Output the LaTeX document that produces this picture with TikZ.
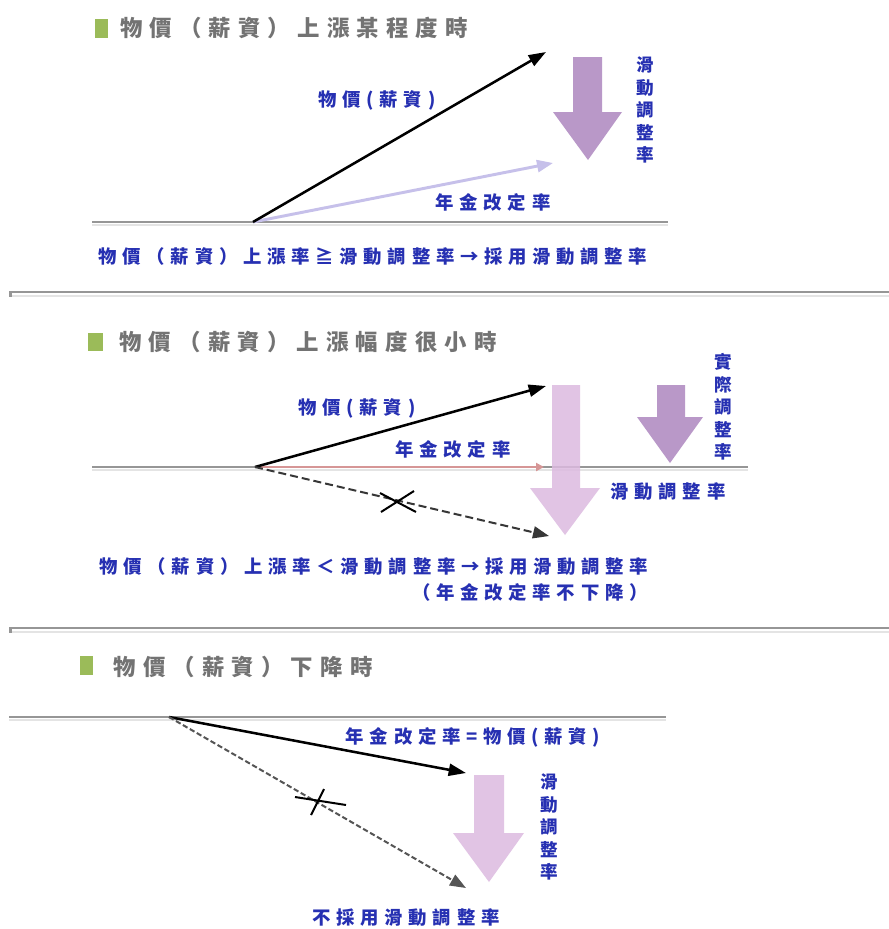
\documentclass[tikz,border=0pt]{standalone}
\usepackage{fontspec}
\usetikzlibrary{arrows.meta}
\newfontfamily\titlef[LetterSpace=32]{Noto Sans CJK TC}
\newfontfamily\bluef[LetterSpace=31]{Noto Sans CJK TC}
\newfontfamily\vertf{Noto Sans CJK TC}
\definecolor{titlegray}{RGB}{115,115,115}
\definecolor{titlegreen}{RGB}{155,187,89}
\definecolor{textblue}{RGB}{38,48,178}
\definecolor{basegray}{RGB}{150,150,150}
\definecolor{shadegray}{RGB}{228,228,228}
\definecolor{darkpurple}{RGB}{185,152,200}
\definecolor{lightpurple}{RGB}{220,186,224}
\definecolor{lavender}{RGB}{198,192,234}
\definecolor{pinkline}{RGB}{214,150,150}
\definecolor{dashgray}{RGB}{55,55,55}
\tikzset{
  titletext/.style={font=\titlef\bfseries\fontsize{16.8}{19}\selectfont, text=titlegray, inner sep=0pt},
  bluelbl/.style={font=\bluef\bfseries\fontsize{13.8}{16}\selectfont, text=textblue, inner sep=0pt},
  vertlbl/.style={font=\vertf\bfseries\fontsize{13.2}{16.9}\selectfont, text=textblue, inner sep=0pt, align=center},
  greensq/.style={fill=titlegreen, draw=none},
  baseline/.style={draw=basegray, line width=1.5pt},
  baseshade/.style={draw=shadegray, line width=1.2pt},
  separator/.style={draw=basegray, line width=2pt},
  blackarrow/.style={draw=black, line width=1.9pt, -{Triangle[length=13pt,width=9pt]}},
  lavarrow/.style={draw=lavender, line width=2.2pt, -{Triangle[length=12pt,width=9pt]}},
  pinkarrow/.style={draw=pinkline, line width=1.6pt, -{Triangle[length=6pt,width=6pt]}},
  dasharrow/.style={draw=dashgray, line width=1.5pt, dash pattern=on 6pt off 3pt, -{Triangle[length=12pt,width=9pt]}},
  dasharrowb/.style={draw=dashgray!85, line width=1.5pt, dash pattern=on 4pt off 2pt, -{Triangle[length=12pt,width=9pt]}},
  crossmark/.style={draw=black, line width=1.5pt},
  darkblock/.style={fill=darkpurple, draw=none},
  lightblock/.style={fill=lightpurple, draw=none, fill opacity=0.85},
}
\begin{document}
\begin{tikzpicture}[x=0.75pt,y=-0.75pt]
\useasboundingbox (0,0) rectangle (889,929);
\fill[white] (0,0) rectangle (889,929);

% ================= Panel 1 =================
\fill[greensq] (95,19) rectangle (108,38);
\node[titletext] (t1) at (294,28) {物價（薪資）上漲某程度時};

\draw[baseshade] (92,225) -- (668,225);
\draw[baseline] (92,222) -- (668,222);

\fill[darkblock] (573,57) -- (602,57) -- (602,112) -- (622,112) -- (588,160) -- (553,112) -- (573,112) -- cycle;
\node[vertlbl] (v1) at (645,110) {滑\\動\\調\\整\\率};

\coordinate (o1) at (253,222);
\coordinate (p1) at (546,52);
\coordinate (q1) at (553,163);
\draw[lavarrow] (o1) -- (q1);
\draw[blackarrow] (o1) -- (p1);

\node[bluelbl] (l1a) at (377,100) {物價(薪資)};
\node[bluelbl] (l1b) at (493,202) {年金改定率};
\node[bluelbl] (l1c) at (373,257) {物價（薪資）上漲率≧滑動調整率→採用滑動調整率};

% separator 1
\draw[draw=shadegray, line width=1.2pt] (12,296) -- (889,296);
\draw[separator] (9,292) -- (889,292);
\fill[basegray] (9,292) rectangle (12,297);

% ================= Panel 2 =================
\fill[greensq] (88,333) rectangle (103,351);
\node[titletext] (t2) at (308,342) {物價（薪資）上漲幅度很小時};

\draw[baseshade] (92,470) -- (748,470);
\draw[baseline] (92,467) -- (748,467);

\coordinate (o2) at (255,467);
\coordinate (p2) at (546,386);
\coordinate (r2) at (544,467);
\coordinate (d2) at (549,536);
\draw[pinkarrow] (o2) -- (r2);
\draw[blackarrow] (o2) -- (p2);
\draw[dasharrow] (o2) -- (d2);

\coordinate (x2a) at (380,493);
\coordinate (x2b) at (416,512);
\coordinate (x2c) at (381,512);
\coordinate (x2d) at (414,491);
\draw[crossmark] (x2a) -- (x2b);
\draw[crossmark] (x2c) -- (x2d);

\fill[lightblock] (552,385) -- (580,385) -- (580,488) -- (600,488) -- (565,535) -- (530,488) -- (552,488) -- cycle;
\fill[darkblock] (657,385) -- (685,385) -- (685,417) -- (703,417) -- (670,463) -- (637,417) -- (657,417) -- cycle;

\node[vertlbl] (v2) at (723,407) {實\\際\\調\\整\\率};
\node[bluelbl] (l2a) at (357,408) {物價(薪資)};
\node[bluelbl] (l2b) at (453,449) {年金改定率};
\node[bluelbl] (l2c) at (668,492) {滑動調整率};
\node[bluelbl] (l2d) at (374,567) {物價（薪資）上漲率＜滑動調整率→採用滑動調整率};
\node[bluelbl] (l2e) at (530,592) {（年金改定率不下降）};

% separator 2
\draw[draw=shadegray, line width=1.2pt] (12,632) -- (889,632);
\draw[separator] (9,628) -- (889,628);
\fill[basegray] (9,628) rectangle (12,633);

% ================= Panel 3 =================
\fill[greensq] (80,656) rectangle (93,675);
\node[titletext] (t3) at (243,667) {物價（薪資）下降時};

\draw[baseshade] (9,720) -- (666,720);
\draw[baseline] (9,717) -- (666,717);

\coordinate (o3) at (169,717);
\coordinate (p3) at (466,773);
\coordinate (d3) at (466,888);
\draw[blackarrow] (o3) -- (p3);
\draw[dasharrowb] (o3) -- (d3);

\coordinate (x3a) at (295,797);
\coordinate (x3b) at (346,805);
\coordinate (x3c) at (324,789);
\coordinate (x3d) at (311,815);
\draw[crossmark] (x3a) -- (x3b);
\draw[crossmark] (x3c) -- (x3d);

\fill[lightblock] (474,775) -- (504,775) -- (504,833) -- (524,833) -- (489,882) -- (453,833) -- (474,833) -- cycle;

\node[vertlbl] (v3) at (549,827) {滑\\動\\調\\整\\率};
\node[bluelbl] (l3a) at (473,737) {年金改定率=物價(薪資)};
\node[bluelbl] (l3b) at (406,918) {不採用滑動調整率};
\end{tikzpicture}
\end{document}
